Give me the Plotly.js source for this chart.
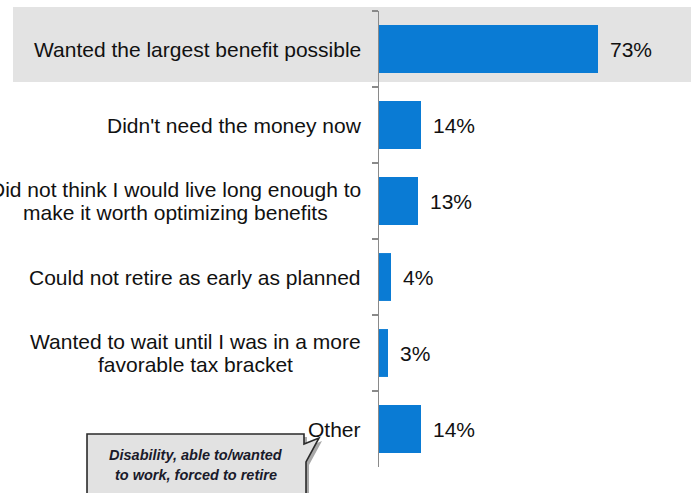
<!DOCTYPE html>
<html>
<head>
<meta charset="utf-8">
<script src="https://cdn.plot.ly/plotly-3.0.1.min.js"></script>
<style>html,body{margin:0;padding:0;background:#fff;}#chart{width:691px;height:493px;}</style>
</head>
<body>
<div id="chart"></div>
<script>
const categories = [
  "Wanted the largest benefit possible",
  "Didn't need the money now",
  "Did not think I would live long enough to<br>make it worth optimizing benefits",
  "Could not retire as early as planned",
  "Wanted to wait until I was in a more<br>favorable tax bracket",
  "Other"
];
const values = [73, 14, 13, 4, 3, 14];
const valueLabels = ["73%", "14%", "13%", "4%", "3%", "14%"];
const calloutLines = ["Disability, able to/wanted", "to work, forced to retire"];

const W = 691, H = 493;
const M = {l: 379, r: 12, t: 11, b: 26};
const PW = W - M.l - M.r, PH = H - M.t - M.b;
const px2x = px => (px - M.l) / PW;
const py2y = py => (H - M.b - py) / PH;

const FONT = 'Liberation Sans, Arial, sans-serif';
const FS = 21;
const ctx = document.createElement('canvas').getContext('2d');
ctx.font = FS + 'px "Liberation Sans"';

const annotations = [];
// category labels: lines centered relative to each other, block right-aligned
categories.forEach((cat) => {
  const lines = cat.split('<br>');
  const maxW = Math.max(...lines.map(s => ctx.measureText(s).width));
  const n = lines.length;
  const gap = 23.5;
  lines.forEach((ln, i) => {
    annotations.push({
      xref: 'x', yref: 'y', x: 0, y: cat,
      text: ln, showarrow: false,
      xanchor: 'center', yanchor: 'middle',
      xshift: -18 - maxW / 2,
      yshift: ((n - 1) / 2 - i) * gap,
      font: {family: FONT, size: FS, color: '#111'}
    });
  });
});
// value labels
values.forEach((v, i) => {
  annotations.push({
    xref: 'x', yref: 'y', x: v, y: categories[i],
    text: valueLabels[i], showarrow: false,
    xanchor: 'left', yanchor: 'middle', xshift: 10,
    font: {family: FONT, size: FS, color: '#111'}
  });
});
// callout text
calloutLines.forEach((ln, i) => {
  annotations.push({
    xref: 'paper', yref: 'paper', x: px2x(196), y: py2y(455 + i * 20),
    text: '<b><i>' + ln + '</i></b>', showarrow: false,
    xanchor: 'center', yanchor: 'middle',
    font: {family: FONT, size: 14.5, color: '#1a1a2a'}
  });
});

function pathFrom(pts, dx, dy) {
  return pts.map((p, i) => (i ? 'L' : 'M') + px2x(p[0] + dx).toFixed(4) + ',' + py2y(p[1] + dy).toFixed(4)).join(' ') + ' Z';
}
const calloutPts = [[87, 434], [304, 434], [304, 444], [319, 438], [306, 462], [306, 500], [87, 500]];

const shapes = [
  {type: 'rect', layer: 'below', xref: 'paper', yref: 'paper',
   x0: px2x(13), x1: px2x(691), y0: py2y(82), y1: py2y(7),
   fillcolor: '#e3e3e3', line: {width: 0}},
  {type: 'path', xref: 'paper', yref: 'paper', path: pathFrom(calloutPts, 3, 3),
   fillcolor: '#a8a8a8', line: {width: 0}},
  {type: 'path', xref: 'paper', yref: 'paper', path: pathFrom(calloutPts, 0, 0),
   fillcolor: '#e2e2e2', line: {color: '#2a2a2a', width: 1.6}}
];

const data = [{
  type: 'bar', orientation: 'h',
  x: values, y: categories,
  width: 0.63,
  marker: {color: '#0a7bd4', line: {width: 0}},
  hoverinfo: 'none'
}];

const layout = {
  width: W, height: H,
  margin: M,
  paper_bgcolor: '#fff', plot_bgcolor: 'rgba(0,0,0,0)',
  showlegend: false,
  xaxis: {range: [0, 100], visible: false, fixedrange: true},
  yaxis: {
    type: 'category', autorange: 'reversed',
    showline: true, linecolor: '#8a8a8a', linewidth: 1.5,
    ticks: 'outside', tickson: 'boundaries', ticklen: 6, tickcolor: '#8a8a8a', tickwidth: 1.5,
    showticklabels: false, showgrid: false, zeroline: false, fixedrange: true
  },
  shapes: shapes,
  annotations: annotations
};

Plotly.newPlot('chart', data, layout, {displayModeBar: false, staticPlot: true});
</script>
</body>
</html>
